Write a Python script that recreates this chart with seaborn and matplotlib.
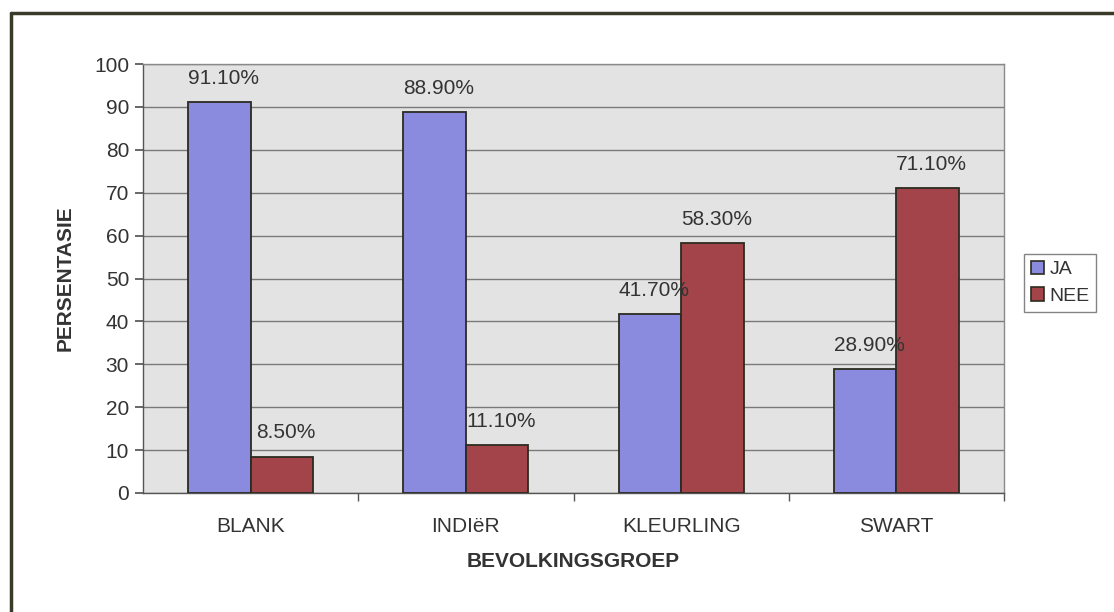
import matplotlib
matplotlib.use("Agg")
import matplotlib.pyplot as plt
import matplotlib.lines as mlines
import seaborn as sns
import pandas as pd

categories = ["BLANK", "INDIëR", "KLEURLING", "SWART"]
series_names = ["JA", "NEE"]
ja_values = [91.1, 88.9, 41.7, 28.9]
nee_values = [8.5, 11.1, 58.3, 71.1]
y_ticks = [0, 10, 20, 30, 40, 50, 60, 70, 80, 90, 100]

df = pd.DataFrame({
    "group": categories * 2,
    "series": [series_names[0]] * 4 + [series_names[1]] * 4,
    "value": ja_values + nee_values,
})

sns.set_theme(style="white")
plt.rcParams["font.family"] = ["Liberation Sans", "DejaVu Sans"]

fig = plt.figure(figsize=(11.14, 6.12), dpi=100)
fig.patch.set_facecolor("white")
ax = fig.add_axes([143 / 1114, 1 - 493 / 612, 861 / 1114, 429 / 612])
ax.set_facecolor("#e3e3e3")

colors = {"JA": "#8a8ade", "NEE": "#a2444a"}
sns.barplot(data=df, x="group", y="value", hue="series", palette=colors,
            width=0.58, edgecolor="#2b2b20", linewidth=1.3, saturation=1,
            ax=ax, zorder=3, legend=False)

ax.set_ylim(0, 100)
ax.set_xlim(-0.5, 3.5)
ax.set_yticks(y_ticks)
ax.yaxis.grid(True, color="#7a7a7a", linewidth=1, zorder=0)
ax.set_axisbelow(True)
ax.set_xticks([0, 1, 2, 3])
ax.set_xticklabels(categories, fontsize=15, color="#333333")
ax.tick_params(axis="x", length=0, pad=17)
ax.set_xticks([0.5, 1.5, 2.5, 3.5], minor=True)
ax.tick_params(axis="x", which="minor", length=6, color="#555555", direction="out", bottom=True)
ax.tick_params(axis="y", labelsize=15, length=6, color="#555555", direction="out", left=True,
               labelcolor="#333333", pad=4)
for s in ax.spines.values():
    s.set_color("#8a8a8a")
    s.set_linewidth(1)
ax.spines["left"].set_color("#555555")
ax.spines["bottom"].set_color("#555555")

ax.set_xlabel("BEVOLKINGSGROEP", fontsize=15, fontweight="bold", color="#333333", labelpad=12)
ax.set_ylabel("PERSENTASIE", fontsize=15, fontweight="bold", color="#333333", labelpad=14)

for cont in ax.containers:
    for bar in cont:
        h = bar.get_height()
        ax.annotate(f"{h:.2f}%", (bar.get_x() + bar.get_width() / 2, h),
                    xytext=(3, 17), textcoords="offset points", ha="center", va="center",
                    fontsize=15, color="#333333")

handles = [plt.Rectangle((0, 0), 1, 1, facecolor=colors[n], edgecolor="#2b2b20", linewidth=1.2)
           for n in series_names]
leg = fig.legend(handles, series_names, loc="upper left",
                 bbox_to_anchor=(1024 / 1114, 1 - 254 / 612), frameon=True, fancybox=False,
                 fontsize=14, handlelength=0.7, handleheight=0.7, handletextpad=0.25,
                 borderpad=0.35, labelspacing=0.45, borderaxespad=0)
leg.get_frame().set_edgecolor("#666666")
leg.get_frame().set_linewidth(1)
for t in leg.get_texts():
    t.set_color("#333333")

# outer chart border (top and left)
fig.add_artist(mlines.Line2D([11 / 1114, 1.0], [1 - 13 / 612, 1 - 13 / 612],
                             color="#3a3a28", linewidth=2.5, transform=fig.transFigure))
fig.add_artist(mlines.Line2D([11 / 1114, 11 / 1114], [0.0, 1 - 13 / 612],
                             color="#3a3a28", linewidth=2.5, transform=fig.transFigure))

fig.savefig("out.png", dpi=100)
